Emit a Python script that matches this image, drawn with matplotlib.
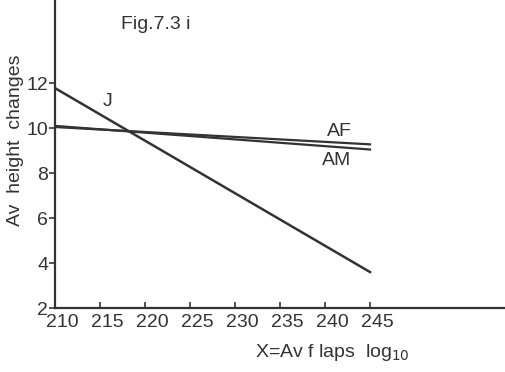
import numpy as np
import matplotlib
matplotlib.use("Agg")
import matplotlib.pyplot as plt
from matplotlib.transforms import ScaledTranslation

# Regression lines: mean height changes against mean flaps (log10)
x_ends = [210, 245]
j_line = [11.78, 3.6]
af_line = [10.05, 9.28]
am_line = [10.1, 9.05]

x_ticks = [210, 215, 220, 225, 230, 235, 240, 245]
y_ticks = [2, 4, 6, 8, 10, 12]

ink = "#333333"
plt.rcParams["font.family"] = ["Liberation Sans", "DejaVu Sans"]

fig = plt.figure(figsize=(5.05, 3.72), dpi=100)
ax = fig.add_axes([0.109, 0.172, 0.891, 0.828])

ax.plot(x_ends, j_line, color=ink, lw=1.8)
ax.plot(x_ends, af_line, color=ink, lw=1.6)
ax.plot(x_ends, am_line, color=ink, lw=1.6)

ax.set_xlim(210, 260)
ax.set_ylim(2, 15.7)
ax.set_xticks(x_ticks)
ax.set_yticks(y_ticks)

for side in ["top", "right"]:
    ax.spines[side].set_visible(False)
for side in ["left", "bottom"]:
    ax.spines[side].set_color(ink)
    ax.spines[side].set_linewidth(1.6)

ax.tick_params(axis="x", direction="in", length=4, width=1.2, colors=ink,
               labelsize=14, pad=4)
ax.tick_params(axis="y", direction="out", length=4, width=1.2, colors=ink,
               labelsize=14, pad=1)

# hand-lettered tick numbers sit a little right of their ticks
shift = ScaledTranslation(7 / 100, 0, fig.dpi_scale_trans)
for lab in ax.get_xticklabels():
    lab.set_transform(lab.get_transform() + shift)

ax.set_ylabel("Av  height  changes", fontsize=14, color=ink)
ax.yaxis.set_label_coords(-0.068, 0.545)
ax.set_xlabel(r"X=Av f laps  log$_{10}$", fontsize=14, color=ink)
ax.xaxis.set_label_coords(0.616, -0.11)

ax.text(221.2, 14.6, "Fig.7.3 i", fontsize=14, color=ink, ha="center", va="center")
ax.text(215.8, 11.2, "J", fontsize=14, color=ink, ha="center", va="center")
ax.text(241.6, 9.84, "AF", fontsize=14, color=ink, ha="center", va="center")
ax.text(241.3, 8.58, "AM", fontsize=14, color=ink, ha="center", va="center")

fig.savefig("out.png", dpi=100)
